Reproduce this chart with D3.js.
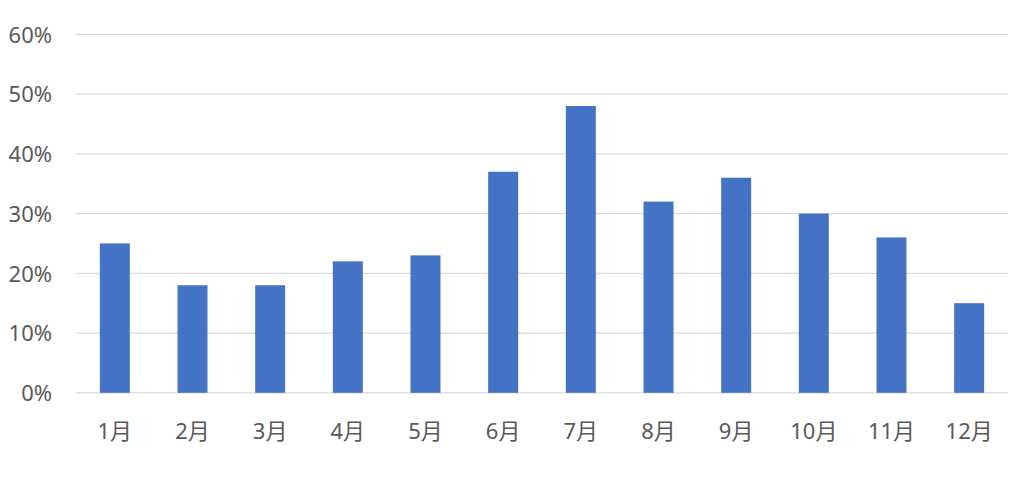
<!DOCTYPE html>
<html>
<head>
<meta charset="utf-8">
<script src="https://cdn.jsdelivr.net/npm/d3@7"></script>
<style>
  body { margin: 0; background: #fff; }
  text { font-family: "Noto Sans", "Noto Sans CJK JP", sans-serif; fill: #595959; }
</style>
</head>
<body>
<div id="chart"></div>
<script>
// month labels and values (percent)
var months = ["1月", "2月", "3月", "4月", "5月", "6月", "7月", "8月", "9月", "10月", "11月", "12月"];
var values = [25, 18, 18, 22, 23, 37, 48, 32, 36, 30, 26, 15];
var yTicks = [0, 10, 20, 30, 40, 50, 60];

var width = 1024, height = 479;
var plotLeft = 76, plotRight = 1008, plotTop = 34.3, plotBottom = 392.8;

var svg = d3.select("#chart").append("svg").attr("width", width).attr("height", height);

var x = d3.scaleBand().domain(months).range([plotLeft, plotRight]).paddingInner(0.614).paddingOuter(0.307);
var y = d3.scaleLinear().domain([0, 60]).range([plotBottom, plotTop]);

// gridlines
svg.append("g").selectAll("line").data(yTicks).enter().append("line")
  .attr("x1", plotLeft).attr("x2", plotRight)
  .attr("y1", function(d) { return y(d); }).attr("y2", function(d) { return y(d); })
  .style("stroke", "#d9d9d9").style("stroke-width", 1.3);

// bars
svg.append("g").selectAll("rect").data(values).enter().append("rect")
  .attr("x", function(d, i) { return x(months[i]); })
  .attr("width", x.bandwidth())
  .attr("y", function(d) { return y(d); })
  .attr("height", function(d) { return y(0) - y(d); })
  .style("fill", "#4472c4");

// y axis labels
var yAxis = d3.axisLeft(y).tickValues(yTicks).tickSize(0).tickPadding(0)
  .tickFormat(function(d) { return d + "%"; });
var gy = svg.append("g").attr("transform", "translate(52,0)").call(yAxis);
gy.select(".domain").remove();
gy.selectAll("text").style("font-size", "22px").style("fill", "#595959")
  .style("font-family", "'Noto Sans', sans-serif").attr("dy", "0.35em");

// x axis labels
var xAxis = d3.axisBottom(x).tickSize(0).tickPadding(0);
var gx = svg.append("g").attr("transform", "translate(0," + (plotBottom + 38) + ")").call(xAxis);
gx.select(".domain").remove();
gx.selectAll("text").style("font-size", "22px").style("fill", "#595959")
  .style("font-family", "'Noto Sans', 'Noto Sans CJK JP', sans-serif").attr("dy", "0.35em");
</script>
</body>
</html>
